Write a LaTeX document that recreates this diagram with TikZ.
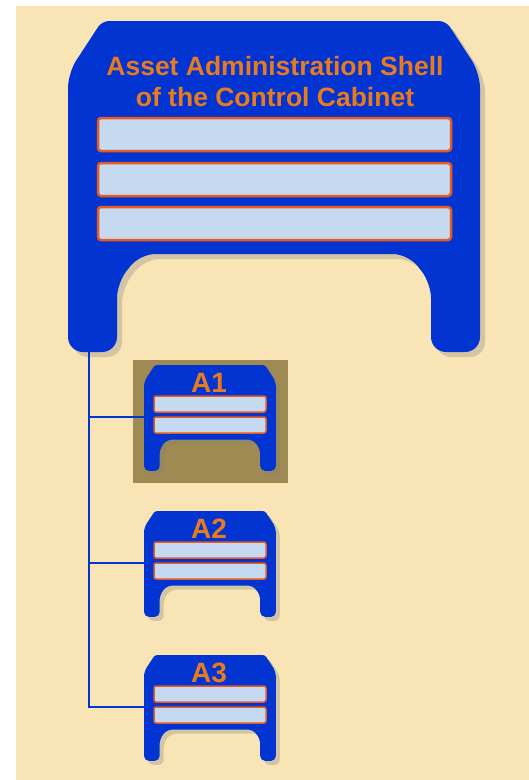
\documentclass[tikz,border=0pt]{standalone}
\usepackage{fontspec}
\setmainfont{Liberation Sans}
\usetikzlibrary{shadows}

\tikzset{
  pics/aasshell/.style n args={3}{code={
    \fill[kBlue, drop shadow={shadow xshift=#1, shadow yshift=-#1, opacity=0.3}]
      (206,0) [rounded corners=#3] -- (378,0) [rounded corners=#2] -- (412,52) -- (412,331)
      -- (363,331) -- (363,262) -- (340,233) -- (72,233) -- (49,262) -- (49,331)
      -- (0,331) -- (0,52) [rounded corners=#3] -- (34,0) -- cycle;
  }},
  bigbar/.style={fill=kBar, draw=kRim, line width=2.5pt, rounded corners=3pt},
  smallbar/.style={fill=kBar, draw=kRim, line width=1.5pt, rounded corners=2pt},
  link/.style={draw=kBlue, line width=1.6pt},
  title/.style={text=kOrange, font=\bfseries\fontsize{26.5}{31}\selectfont, align=center, inner sep=0pt},
  tag/.style={text=kOrange, font=\bfseries\fontsize{28}{30}\selectfont, inner sep=0pt}
}

\begin{document}
\begin{tikzpicture}[x=1pt,y=-1pt]
  \definecolor{kPaper}{RGB}{248,228,180}
  \definecolor{kBlue}{RGB}{2,52,210}
  \definecolor{kBar}{RGB}{197,217,241}
  \definecolor{kRim}{RGB}{232,90,30}
  \definecolor{kOrange}{RGB}{234,122,30}
  \definecolor{kMark}{RGB}{158,138,82}

  \useasboundingbox (0,0) rectangle (529,780);
  \fill[kPaper] (16,6) rectangle (529,780);

  % shell of the control cabinet
  \pic at (68,21) {aasshell={5pt}{15pt}{7pt}};
  \node[title] (title) at (275,82) {Asset Administration Shell\\of the Control Cabinet};
  \foreach \y in {118,163,207}
    \draw[bigbar] (98,\y) rectangle (451,\y+33);
  \coordinate (cc-leg) at (89,352);

  % highlighted component
  \fill[kMark] (133,360) rectangle (288,483);

  % component shells
  \foreach \i/\y in {1/365,2/511,3/655} {
    \pic[scale=0.32] at (144,\y) {aasshell={4pt}{5pt}{2.5pt}};
    \node[tag] (a\i) at (209,\y+17.5) {A\i};
    \draw[smallbar] (154,\y+31) rectangle (266,\y+47);
    \draw[smallbar] (154,\y+52) rectangle (266,\y+68);
    \coordinate (a\i-in) at (144,\y+52);
  }

  \draw[link] (cc-leg) |- (a1-in);
  \draw[link] (cc-leg) |- (a2-in);
  \draw[link] (cc-leg) |- (a3-in);

\end{tikzpicture}
\end{document}
